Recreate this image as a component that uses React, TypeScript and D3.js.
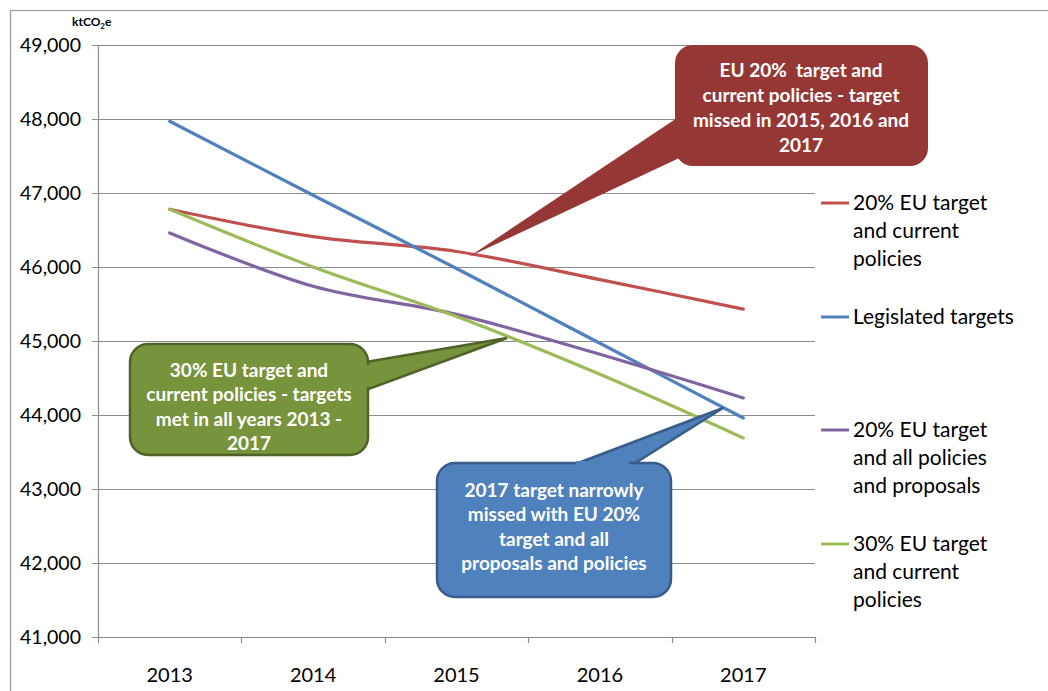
import React, { useEffect, useRef } from "react";
import * as d3 from "d3";

const years = ["2013", "2014", "2015", "2016", "2017"];
const yTicks = [41000, 42000, 43000, 44000, 45000, 46000, 47000, 48000, 49000];

const current20 = [46780, 46410, 46210, 45830, 45430];
const legislated = [47970, 46970, 45980, 44970, 43960];
const allPolicies20 = [46460, 45740, 45360, 44820, 44230];
const current30 = [46780, 46000, 45330, 44550, 43690];

const seriesNames = [
  ["20% EU target", "and current", "policies"],
  ["Legislated targets"],
  ["20% EU target", "and all policies", "and proposals"],
  ["30% EU target", "and current", "policies"],
];
const seriesColors = ["#C0504D", "#4F81BD", "#8064A2", "#9BBB59"];

const redNote = ["EU 20%  target and", "current policies - target", "missed in 2015, 2016 and", "2017"];
const greenNote = ["30% EU target and", "current policies - targets", "met in all years 2013 -", "2017"];
const blueNote = ["2017 target narrowly", "missed with EU 20%", "target and all", "proposals and policies"];

export default function App() {
  const ref = useRef<SVGSVGElement>(null);

  useEffect(() => {
    const svg = d3.select(ref.current);
    svg.selectAll("*").remove();

    const font = "Lato, 'Open Sans', sans-serif";
    const left = 98, right = 815, top = 45, bottom = 637;

    const x = d3.scaleBand().domain(years).range([left, right]);
    const y = d3.scaleLinear().domain([41000, 49000]).range([bottom, top]);
    const cx = (d: string) => x(d)! + x.bandwidth() / 2;

    // outer chart frame
    svg.append("rect")
      .attr("x", 10.5).attr("y", 10.5)
      .attr("width", 1100).attr("height", 800)
      .attr("fill", "white").attr("stroke", "#9a9a9a").attr("stroke-width", 1.2);

    // gridlines
    svg.append("g").selectAll("line").data(yTicks).join("line")
      .attr("x1", left - 6).attr("x2", right)
      .attr("y1", (d) => Math.round(y(d)) + 0.5).attr("y2", (d) => Math.round(y(d)) + 0.5)
      .attr("stroke", "#8c8c8c").attr("stroke-width", 1.2);

    // axes
    svg.append("line").attr("x1", left + 0.5).attr("x2", left + 0.5)
      .attr("y1", top).attr("y2", bottom).attr("stroke", "#8c8c8c").attr("stroke-width", 1.2);
    const bounds = years.map((d) => x(d)!).concat([right]);
    svg.append("g").selectAll("line").data(bounds).join("line")
      .attr("x1", (d) => Math.round(d) + 0.5).attr("x2", (d) => Math.round(d) + 0.5)
      .attr("y1", bottom).attr("y2", bottom + 6)
      .attr("stroke", "#8c8c8c").attr("stroke-width", 1.2);

    svg.append("g").selectAll("text").data(yTicks).join("text")
      .attr("x", 81).attr("y", (d) => y(d) + 7)
      .attr("text-anchor", "end")
      .style("font-family", font).style("font-size", "19.5px").attr("fill", "#000")
      .text((d) => d3.format(",")(d));

    svg.append("g").selectAll("text").data(years).join("text")
      .attr("x", (d) => cx(d)).attr("y", 682)
      .attr("text-anchor", "middle")
      .style("font-family", font).style("font-size", "20px").attr("fill", "#000")
      .text((d) => d);

    // unit label
    const unit = svg.append("text").attr("x", 72).attr("y", 26)
      .style("font-family", font).style("font-size", "12px").style("font-weight", "bold");
    unit.append("tspan").text("ktCO");
    unit.append("tspan").attr("dy", 3).style("font-size", "8px").text("2");
    unit.append("tspan").attr("dy", -3).text("e");

    // series lines
    const line = d3.line<number>()
      .x((_, i) => cx(years[i]))
      .y((d) => y(d))
      .curve(d3.curveCatmullRom.alpha(0.5));
    const series = [current20, legislated, allPolicies20, current30];
    series.forEach((s, i) => {
      svg.append("path").datum(s)
        .attr("d", line)
        .attr("fill", "none")
        .attr("stroke", seriesColors[i])
        .attr("stroke-width", 3.2)
        .attr("stroke-linecap", "round");
    });

    // legend
    const legendY = [203, 317, 430, 544];
    seriesNames.forEach((lines, i) => {
      svg.append("line").attr("x1", 821).attr("x2", 849)
        .attr("y1", legendY[i]).attr("y2", legendY[i])
        .attr("stroke", seriesColors[i]).attr("stroke-width", 3);
      svg.append("text")
        .style("font-family", font).style("font-size", "21px")
        .selectAll("tspan").data(lines).join("tspan")
        .attr("x", 853).attr("y", (_, j) => legendY[i] + 7 + j * 28)
        .text((d) => d);
    });

    // callouts: pointer wedge + rounded box + bold white text
    const callout = (
      box: [number, number, number, number],
      ptr: [number, number][],
      seam: [number, number][],
      fill: string,
      stroke: string | null,
      text: string[],
      tx: number,
      ty: number,
      lh: number
    ) => {
      const [x0, y0, x1, y1] = box;
      const r = 18;
      const g = svg.append("g");
      g.append("path").attr("d", d3.line()(ptr)! + "Z")
        .attr("fill", fill)
        .attr("stroke", stroke ?? "none").attr("stroke-width", 2.5);
      const p = d3.path();
      p.moveTo(x0 + r, y0);
      p.arcTo(x1, y0, x1, y1, r);
      p.arcTo(x1, y1, x0, y1, r);
      p.arcTo(x0, y1, x0, y0, r);
      p.arcTo(x0, y0, x1, y0, r);
      p.closePath();
      g.append("path").attr("d", p.toString())
        .attr("fill", fill).attr("stroke", stroke ?? "none").attr("stroke-width", 2.5);
      if (seam.length) {
        g.append("path").attr("d", d3.line()(seam)!)
          .attr("stroke", fill).attr("stroke-width", 4).attr("fill", "none");
      }
      g.append("text")
        .style("font-family", font).style("font-size", "19px").style("font-weight", "bold")
        .style("white-space", "pre")
        .attr("fill", "white").attr("text-anchor", "middle")
        .selectAll("tspan").data(text).join("tspan")
        .attr("x", tx).attr("y", (_, j) => ty + j * lh)
        .text((d) => d);
    };

    const redTip: [number, number] = [cx("2015") + 13, y(current20[2]) + 5];
    callout([675, 45, 928, 166], [[692, 108], redTip, [692, 152]], [], "#953735", null,
      redNote, 801, 77, 25);

    const greenTip: [number, number] = [507, y(45000) - 3];
    callout([130, 344, 368, 455], [[366, 362], greenTip, [366, 390]], [[368, 365], [368, 387]],
      "#77933C", "#4F6228", greenNote, 249, 377, 24.3);

    const blueTip: [number, number] = [723, 408];
    callout([437, 463, 671, 597], [[573, 465], blueTip, [632, 465]], [[576, 463], [629, 463]],
      "#4F81BD", "#385D8A", blueNote, 554, 497, 24.3);
  }, []);

  return (
    <svg
      ref={ref}
      width={1048}
      height={691}
      style={{ position: "absolute", left: 0, top: 0, background: "white" }}
    />
  );
}
